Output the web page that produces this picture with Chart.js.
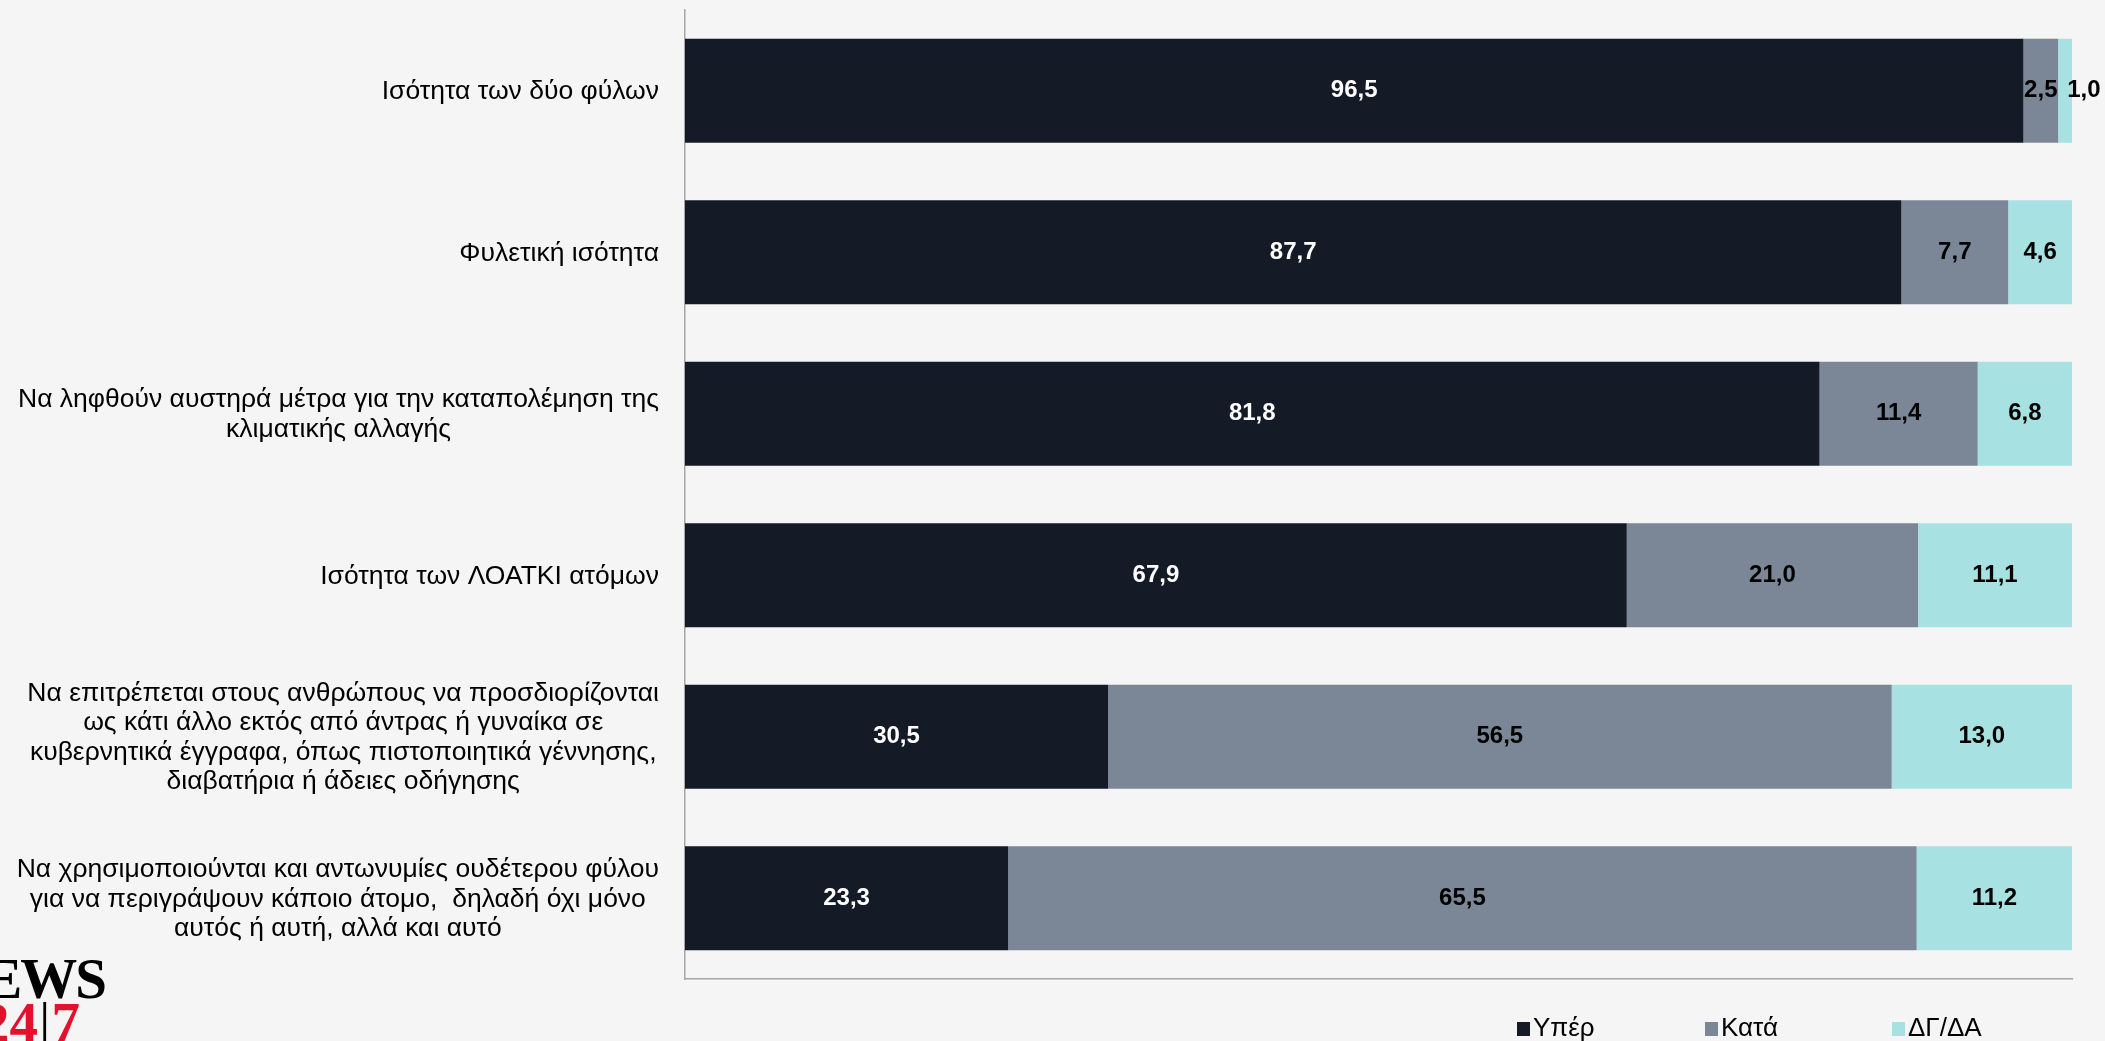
<!DOCTYPE html>
<html>
<head>
<meta charset="utf-8">
<script src="https://cdn.jsdelivr.net/npm/chart.js@4"></script>
<style>
  html, body { margin: 0; padding: 0; background: #f5f5f5; overflow: hidden; }
  #wrap { position: relative; width: 2105px; height: 1041px; overflow: hidden; }
  #legend { position: absolute; top: 1012px; left: 0; font-family: "Liberation Sans", Arial, sans-serif; font-size: 26px; color: #000; }
  .item { position: absolute; white-space: nowrap; line-height: 30px; }
  .item i { display: inline-block; width: 13px; height: 14px; margin-right: 3px; vertical-align: 0px; }
  .logo { position: absolute; width: 300px; text-align: right; font-family: "Liberation Serif", "DejaVu Serif", serif; font-weight: bold; font-size: 57px; line-height: 1; white-space: nowrap; }
  #logo1 { left: -195px; top: 950px; color: #000; letter-spacing: -2px; }
  #logo2 { left: -220px; top: 994px; color: #e4112d; }
  #logo2 .bar { font-weight: normal; color: #000; margin: 0 1px; }
</style>
</head>
<body>
<div id="wrap">
  <canvas id="chart" width="2105" height="1041"></canvas>
  <div id="legend"></div>
  <div class="logo" id="logo1">NEWS</div>
  <div class="logo" id="logo2">24<span class="bar">|</span>7</div>
</div>
<script>
// Data
const categories = [
    ['Ισότητα των δύο φύλων'],
    ['Φυλετική ισότητα'],
    ['Να ληφθούν αυστηρά μέτρα για την καταπολέμηση της', 'κλιματικής αλλαγής'],
    ['Ισότητα των ΛΟΑΤΚΙ ατόμων'],
    ['Να επιτρέπεται στους ανθρώπους να προσδιορίζονται', 'ως κάτι άλλο εκτός από άντρας ή γυναίκα σε', 'κυβερνητικά έγγραφα, όπως πιστοποιητικά γέννησης,', 'διαβατήρια ή άδειες οδήγησης'],
    ['Να χρησιμοποιούνται και αντωνυμίες ουδέτερου φύλου', 'για να περιγράψουν κάποιο άτομο,  δηλαδή όχι μόνο', 'αυτός ή αυτή, αλλά και αυτό']
];
const seriesNames = ['Υπέρ', 'Κατά', 'ΔΓ/ΔΑ'];
const yper = [96.5, 87.7, 81.8, 67.9, 30.5, 23.3];
const kata = [2.5, 7.7, 11.4, 21.0, 56.5, 65.5];
const dgda = [1.0, 4.6, 6.8, 11.1, 13.0, 11.2];

const colors = ['#151b26', '#7b8797', '#a8e1e1'];
const labelColors = ['#ffffff', '#000000', '#000000'];
const FONT = '"Liberation Sans", Arial, sans-serif';

// Category labels: block right aligned, lines centred inside block
const categoryLabels = {
    id: 'categoryLabels',
    afterDraw(chart) {
        const ctx = chart.ctx;
        const yScale = chart.scales.y;
        const right = 659, lineH = 29.5;
        ctx.save();
        ctx.font = '26.5px ' + FONT;
        ctx.fillStyle = '#000';
        ctx.textAlign = 'center';
        ctx.textBaseline = 'middle';
        categories.forEach((lines, i) => {
            const yc = yScale.getPixelForValue(i) + 1;
            const w = Math.max(...lines.map(l => ctx.measureText(l).width));
            const cx = right - w / 2;
            const y0 = yc - (lines.length - 1) * lineH / 2;
            lines.forEach((l, k) => ctx.fillText(l, cx, y0 + k * lineH));
        });
        ctx.restore();
    }
};

// Value labels in the middle of each segment
const valueLabels = {
    id: 'valueLabels',
    afterDatasetsDraw(chart) {
        const ctx = chart.ctx;
        ctx.save();
        ctx.font = 'bold 24px ' + FONT;
        ctx.textBaseline = 'middle';
        chart.data.datasets.forEach((ds, di) => {
            const meta = chart.getDatasetMeta(di);
            meta.data.forEach((bar, i) => {
                const txt = ds.data[i].toFixed(1).replace('.', ',');
                const left = Math.min(bar.x, bar.base);
                const w = Math.abs(bar.x - bar.base);
                const tw = ctx.measureText(txt).width;
                ctx.fillStyle = labelColors[di];
                if (tw > w * 1.6) {
                    // very thin segment: label starts inside and runs past it
                    ctx.textAlign = 'left';
                    ctx.fillText(txt, left + 9, bar.y);
                } else {
                    ctx.textAlign = 'center';
                    ctx.fillText(txt, left + w / 2, bar.y);
                }
            });
        });
        ctx.restore();
    }
};

const ctx = document.getElementById('chart').getContext('2d');
const chart = new Chart(ctx, {
    type: 'bar',
    data: {
        labels: categories.map(c => c.join(' ')),
        datasets: [yper, kata, dgda].map((d, k) => ({
            label: seriesNames[k],
            data: d,
            backgroundColor: colors[k],
            barPercentage: 0.645,
            categoryPercentage: 1
        }))
    },
    options: {
        indexAxis: 'y',
        responsive: false,
        animation: false,
        layout: { padding: { left: 677, right: 33, top: 10, bottom: 54 } },
        plugins: {
            legend: { display: false },
            tooltip: { enabled: false }
        },
        scales: {
            x: {
                stacked: true, min: 0, max: 100,
                grid: { display: false },
                ticks: { display: false },
                border: { color: '#a6a6a6', width: 1.5 }
            },
            y: {
                stacked: true,
                grid: { display: false },
                ticks: { display: false },
                border: { color: '#a6a6a6', width: 1.5 }
            }
        }
    },
    plugins: [categoryLabels, valueLabels]
});

// Legend
const legendPos = [1517, 1705, 1892];
const legend = document.getElementById('legend');
seriesNames.forEach((name, k) => {
    const el = document.createElement('div');
    el.className = 'item';
    el.style.left = legendPos[k] + 'px';
    el.innerHTML = '<i style="background:' + colors[k] + '"></i>' + name;
    legend.appendChild(el);
});
</script>
</body>
</html>
